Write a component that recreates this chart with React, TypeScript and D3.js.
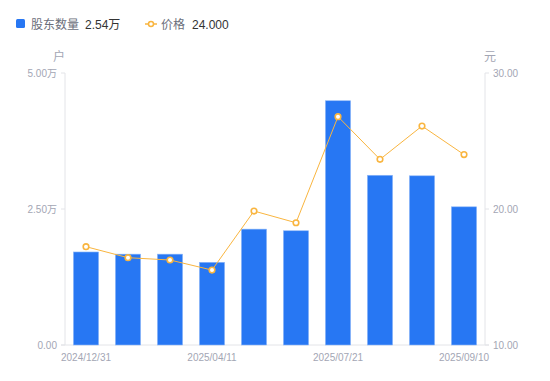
import React from "react";
import * as d3 from "d3";

const categories = [
  "2024/12/31", "2025/02/28", "2025/03/20", "2025/04/11", "2025/04/30",
  "2025/06/30", "2025/07/21", "2025/08/10", "2025/08/31", "2025/09/10",
];
const holders = [1.71, 1.67, 1.67, 1.52, 2.13, 2.1, 4.49, 3.12, 3.11, 2.54]; // 万户
const prices = [17.23, 16.42, 16.25, 15.51, 19.85, 18.99, 26.79, 23.65, 26.1, 24.0];
const leftTicks = [0, 2.5, 5];
const leftTickLabels = ["0.00", "2.50万", "5.00万"];
const rightTicks = [10, 20, 30];
const rightTickLabels = ["10.00", "20.00", "30.00"];
const shownLabels = ["2024/12/31", "2025/04/11", "2025/07/21", "2025/09/10"];

const W = 550, H = 381;
const L = 65, R = 485, T = 73, B = 345;
const BLUE = "#2777f3";
const ORANGE = "#f9b53f";
const GRAY = "#a3a6b4";
const FONT = "'Liberation Sans', Arial, 'Noto Sans CJK SC', sans-serif";

export default function App() {
  const x = d3.scaleBand<string>().domain(categories).range([L, R]).paddingInner(0.4).paddingOuter(0.2);
  const yL = d3.scaleLinear().domain([0, 5]).range([B, T]);
  const yR = d3.scaleLinear().domain([10, 30]).range([B, T]);
  const cx = (c: string) => (x(c) as number) + x.bandwidth() / 2;
  const line = d3.line<number>().x((_, i) => cx(categories[i])).y((d) => yR(d));

  return (
    <svg width={W} height={H} style={{ position: "absolute", left: 0, top: 0, fontFamily: FONT }}>
      <rect width={W} height={H} fill="#fff" />
      {/* legend */}
      <rect x={16} y={19} width={9} height={9} rx={1.5} fill={BLUE} />
      <text x={31} y={28.5} fontSize={12} fill="#6b6e7a">股东数量</text>
      <text x={85} y={28.5} fontSize={12} fill="#333">2.54万</text>
      <line x1={145} x2={157} y1={24} y2={24} stroke={ORANGE} strokeWidth={1.5} />
      <circle cx={151} cy={24} r={2.5} fill="#fff" stroke={ORANGE} strokeWidth={1.5} />
      <text x={161} y={28.5} fontSize={12} fill="#6b6e7a">价格</text>
      <text x={192} y={28.5} fontSize={12} fill="#333">24.000</text>

      {/* axis titles */}
      <text x={59} y={61} fontSize={12} fill={GRAY} textAnchor="middle">户</text>
      <text x={490} y={61} fontSize={12} fill={GRAY} textAnchor="middle">元</text>

      {/* axes */}
      <line x1={L} x2={L} y1={T} y2={B} stroke="#e3e4e8" />
      <line x1={R} x2={R} y1={T} y2={B} stroke="#e3e4e8" />
      <line x1={L - 4} x2={R + 4} y1={B} y2={B} stroke="#e3e4e8" />
      {leftTicks.map((t, i) => (
        <g key={"l" + i}>
          <line x1={L - 4} x2={L} y1={yL(t)} y2={yL(t)} stroke="#e3e4e8" />
          <text x={L - 8} y={yL(t) + 3.5} fontSize={10} fill={GRAY} textAnchor="end">{leftTickLabels[i]}</text>
        </g>
      ))}
      {rightTicks.map((t, i) => (
        <g key={"r" + i}>
          <line x1={R} x2={R + 4} y1={yR(t)} y2={yR(t)} stroke="#e3e4e8" />
          <text x={R + 8} y={yR(t) + 3.5} fontSize={10} fill={GRAY} textAnchor="start">{rightTickLabels[i]}</text>
        </g>
      ))}
      {shownLabels.map((c) => (
        <text key={c} x={cx(c)} y={361} fontSize={10} fill={GRAY} textAnchor="middle">{c}</text>
      ))}

      {/* bars */}
      {holders.map((v, i) => (
        <rect key={i} x={x(categories[i])} y={yL(v)} width={x.bandwidth()} height={B - yL(v)}
          fill={BLUE} stroke="#8fb8f8" strokeWidth={0.6} />
      ))}

      {/* price line */}
      <path d={line(prices) || ""} fill="none" stroke={ORANGE} strokeWidth={1} />
      {prices.map((p, i) => (
        <circle key={i} cx={cx(categories[i])} cy={yR(p)} r={2.8} fill="#fff" stroke={ORANGE} strokeWidth={1.6} />
      ))}
    </svg>
  );
}
